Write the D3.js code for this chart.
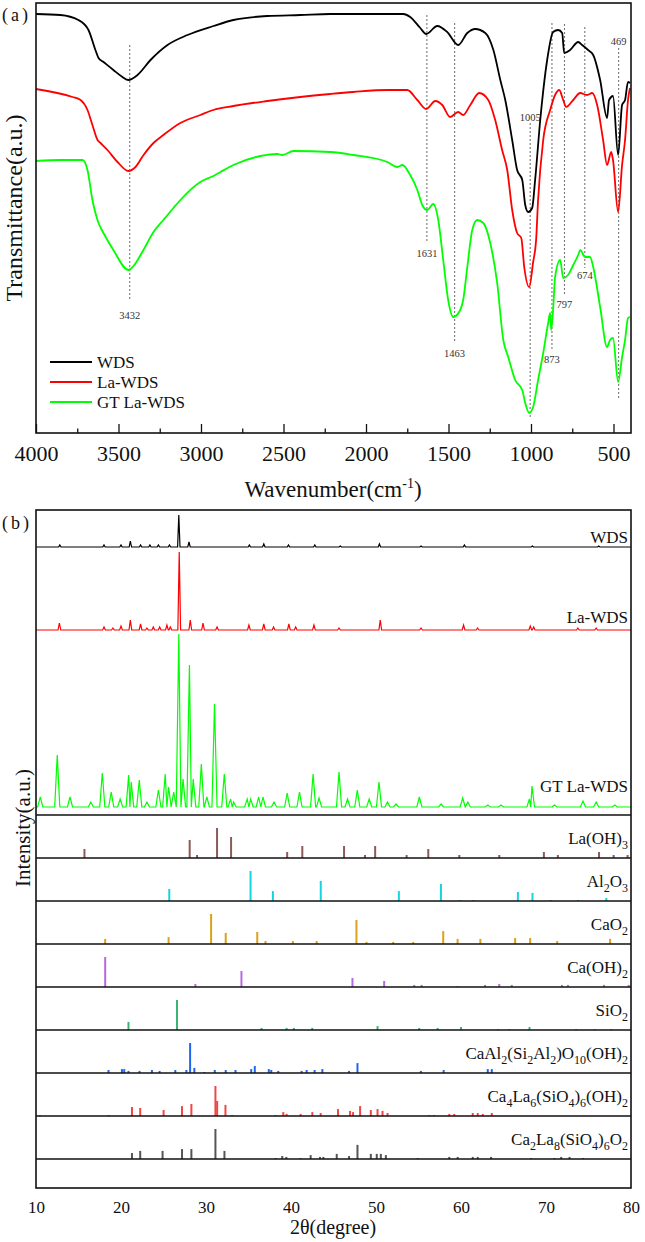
<!DOCTYPE html>
<html>
<head>
<meta charset="utf-8">
<script src="https://cdn.jsdelivr.net/npm/d3@7"></script>
<style>
  body { margin: 0; background: #fff; }
  svg text { font-family: "Liberation Serif", "Times New Roman", serif !important; fill: #111; }
</style>
</head>
<body>
<svg id="chart" width="645" height="1242"></svg>
<script>
// ---- (a) FTIR spectra: [wavenumber cm-1, transmittance a.u.]
const ftirWDS = [[4000,419],[3852,418],[3743,413],[3682,403],[3640,383],[3621,375],[3591,371],[3531,363],[3476,356],[3440,353],[3385,358],[3306,373],[3203,388],[3082,398],[2925,407],[2804,413],[2598,417],[2398,418],[2216,419],[1774,419],[1732,416],[1671,405],[1635,399],[1568,407],[1508,401],[1441,388],[1386,400],[1338,404],[1277,400],[1228,383],[1186,353],[1156,333],[1114,293],[1084,263],[1053,253],[1035,228],[1017,221],[993,225],[975,253],[944,313],[902,373],[866,401],[835,403],[811,400],[799,380],[763,383],[714,391],[690,388],[654,383],[623,378],[581,353],[539,315],[527,333],[503,337],[472,278],[448,328],[430,333],[412,351],[400,350]];
const ftirLaWDS = [[4000,344],[3779,336],[3730,333],[3688,323],[3658,308],[3627,293],[3609,290],[3567,283],[3506,271],[3440,262],[3397,266],[3348,278],[3288,290],[3228,298],[3125,310],[3004,318],[2925,323],[2804,327],[2598,332],[2398,336],[2216,339],[2077,341],[1871,343],[1750,343],[1689,333],[1635,324],[1580,332],[1538,328],[1490,316],[1441,321],[1411,318],[1368,328],[1314,340],[1259,333],[1217,313],[1175,283],[1144,263],[1114,223],[1084,200],[1059,195],[1041,166],[1011,146],[987,171],[969,193],[957,233],[926,293],[884,323],[854,338],[829,343],[805,333],[787,326],[744,333],[702,340],[660,338],[629,340],[599,328],[563,293],[539,268],[514,281],[503,273],[472,221],[448,268],[430,293],[412,333],[400,345]];
const ftirGTLaWDS = [[4000,272],[3852,273],[3718,273],[3688,263],[3658,233],[3621,210],[3591,200],[3531,183],[3440,163],[3409,167],[3349,183],[3288,201],[3228,213],[3167,225],[3125,233],[3004,251],[2925,257],[2882,261],[2804,268],[2640,277],[2537,279],[2507,278],[2440,282],[2216,281],[2077,278],[1871,271],[1810,266],[1780,268],[1732,258],[1689,243],[1659,228],[1629,223],[1592,229],[1562,213],[1532,173],[1502,133],[1471,116],[1429,123],[1411,133],[1386,166],[1356,203],[1326,213],[1289,210],[1247,190],[1205,150],[1168,93],[1138,76],[1096,53],[1053,43],[1035,30],[1011,20],[987,26],[957,53],[926,80],[896,110],[884,120],[878,103],[866,123],[854,156],[823,173],[805,155],[775,158],[744,168],[714,178],[702,183],[672,176],[642,176],[623,166],[581,126],[539,86],[521,93],[503,95],[472,51],[448,76],[430,93],[412,115],[400,116]];
const ftirNames = ["WDS", "La-WDS", "GT La-WDS"];
const ftirColors = ["#000000", "#ff0000", "#00ff00"];
const wnMajorTicks = [4000, 3500, 3000, 2500, 2000, 1500, 1000, 500];
const wnMinorTicks = [3750, 3250, 2750, 2250, 1750, 1250, 750];

// marked bands: wavenumber, dashed line top / bottom and label level (a.u.)
const peakWn = [3432, 1631, 1463, 1005, 873, 797, 674, 469];
const peakTop = [388, 418, 410, 310, 410, 409, 406, 385];
const peakBottom = [133, 190, 90, 16, 83, 138, 165, 33];
const peakLabel = [114, 176, 76, 312, 70, 125, 154, 388];

// ---- (b) XRD patterns: [2theta, intensity]
const xrdWDS = [[12.8,2],[18.0,2],[20.0,2],[21.1,6],[22.3,2],[23.4,2],[24.4,2],[25.7,2],[26.8,32],[28.0,5],[35.1,2],[36.8,3],[39.7,2],[42.8,2],[45.8,1],[50.4,3],[55.3,1],[60.4,2],[68.4,1],[76.2,1]];
const xrdLaWDS = [[12.75,7],[18.0,3],[19.05,2],[20.0,4],[21.1,10],[22.3,6],[23.05,2],[23.8,3],[24.55,3],[25.4,5],[25.8,3],[26.85,78],[28.15,10],[29.65,7],[31.3,3],[35.05,5],[36.8,6],[37.95,3],[39.75,6],[40.55,3],[42.7,5],[45.65,2],[50.5,10],[55.3,2],[60.3,5],[61.95,2],[68.15,4],[68.55,3],[73.75,2],[75.9,2]];
const xrdGTLaWDS = [[10.5,10],[12.5,52],[14.0,10],[16.45,5],[17.8,34],[18.85,15],[19.9,8],[20.9,32],[21.2,25],[22.15,27],[23.05,5],[24.4,17],[25.2,33],[25.6,20],[26.2,15],[26.8,173],[27.3,28],[28.05,142],[28.5,28],[29.45,43],[30.1,10],[31.0,103],[32.15,33],[32.9,8],[33.25,5],[34.85,8],[35.25,8],[36.2,10],[36.7,10],[38.0,5],[39.55,14],[41.0,15],[42.6,33],[43.3,9],[45.65,35],[46.65,8],[47.8,17],[49.2,8],[50.35,25],[51.35,5],[52.35,3],[55.1,10],[57.65,3],[60.2,9],[60.8,5],[63.15,2],[64.7,2],[68.05,8],[68.35,21],[71.0,2],[74.35,6],[75.9,5],[78.1,2]];
const xrdNames = ["WDS", "La-WDS", "GT La-WDS"];
const xrdColors = ["#000000", "#ff0000", "#00ff00"];
const twoThetaTicks = [10, 20, 30, 40, 50, 60, 70, 80];

// reference cards: [2theta, relative intensity]
const refNames = ["La(OH)3", "Al2O3", "CaO2", "Ca(OH)2", "SiO2", "CaAl2(Si2Al2)O10(OH)2", "Ca4La6(SiO4)6(OH)2", "Ca2La8(SiO4)6O2"];
const refColors = ["#8c5a5a", "#14d4e4", "#d9a21a", "#b56ae3", "#3cb371", "#1e66f0", "#f04646", "#555555"];
const refLaOH3 = [[15.7,30],[28.08,60],[28.95,10],[31.3,100],[32.95,70],[39.55,20],[41.33,40],[46.24,40],[48.7,10],[49.9,40],[53.6,10],[56.15,30],[59.8,10],[64.5,10],[69.75,20],[71.4,10],[76.24,20],[77.96,10],[79.6,10]];
const refAl2O3 = [[25.68,40],[35.24,100],[37.87,33],[43.5,67],[52.69,33],[57.64,57],[59.92,3],[61.45,3],[66.69,30],[68.41,27],[70.6,3],[73.76,3],[77.1,10]];
const refCaO2 = [[18.14,17],[25.6,23],[30.6,100],[32.32,37],[36.03,40],[37.0,10],[40.22,10],[43.02,10],[47.7,80],[48.88,7],[52.02,7],[54.38,7],[57.91,43],[59.6,17],[62.28,17],[66.37,20],[68.14,20],[71.32,10],[77.54,17]];
const refCaOH2 = [[18.14,100],[28.75,10],[34.17,53],[47.23,30],[50.96,20],[54.5,7],[55.37,7],[59.6,3],[62.83,7],[64.5,10],[65.97,7],[71.87,7],[72.58,7],[76.83,7],[79.73,7]];
const refSiO2 = [[20.88,27],[26.59,100],[36.53,7],[39.48,7],[40.34,7],[42.5,7],[50.18,13],[55.08,7],[57.25,7],[60.0,10],[64.33,3],[65.7,3],[68.06,10],[73.56,3],[75.72,3],[77.69,3]];
const refMargarite = [[18.53,10],[20.11,13],[20.38,13],[20.88,7],[22.18,7],[23.64,10],[24.54,7],[26.39,10],[27.69,10],[28.13,100],[28.63,17],[29.81,3],[31.03,10],[32.32,10],[33.47,10],[35.32,13],[35.74,23],[37.39,13],[37.68,10],[38.5,7],[41.25,7],[41.84,10],[42.78,10],[43.69,13],[46.83,7],[47.82,33],[55.28,7],[57.96,10],[63.15,13],[63.62,13]];
const refCa4La6 = [[10.47,3],[18.53,3],[21.29,30],[22.26,27],[25.01,20],[27.18,33],[28.28,40],[31.11,100],[31.31,50],[32.29,37],[33.08,3],[38.18,3],[39.09,13],[39.48,7],[41.13,7],[42.51,13],[43.49,10],[45.53,23],[46.95,17],[47.3,13],[48.13,33],[49.39,20],[50.18,23],[50.77,17],[51.36,10],[56.26,3],[56.85,3],[58.62,7],[59.21,7],[61.38,10],[61.97,10],[62.56,7],[63.62,10]];
const refCa2La8 = [[21.29,20],[22.26,27],[24.89,27],[27.18,33],[28.28,33],[31.11,100],[32.17,27],[38.18,3],[38.97,10],[39.45,7],[41.13,3],[42.31,13],[43.41,7],[43.81,7],[45.38,17],[46.83,10],[47.82,47],[49.39,17],[50.09,17],[50.57,17],[51.16,13],[54.9,3],[58.62,7],[59.61,7],[61.38,7],[61.97,7],[63.54,7],[68.25,3],[71.0,3],[71.79,7],[72.77,7],[74.35,3]];
const refPatterns = [refLaOH3, refAl2O3, refCaO2, refCaOH2, refSiO2, refMargarite, refCa4La6, refCa2La8];

const svg = d3.select("#chart");

// digits in chemical formulas become subscripts
function formula(textSel, str, size) {
  const sub = Math.round(size * 0.68), shift = Math.round(size * 0.28);
  let down = false;
  str.match(/\d+|\D+/g).forEach(part => {
    const t = textSel.append("tspan").text(part);
    if (/\d/.test(part)) {
      t.attr("font-size", sub).attr("dy", down ? 0 : shift);
      down = true;
    } else {
      t.attr("dy", down ? -shift : 0);
      down = false;
    }
  });
}

// ================= panel (a) =================
const xA = d3.scaleLinear().domain([4000, 400]).range([36, 630]);
const yA = d3.scaleLinear().domain([0, 430]).range([433, 3]);
const lineA = d3.line().x(d => xA(d[0])).y(d => yA(d[1])).curve(d3.curveMonotoneX);

// dashed band markers
peakWn.forEach((wn, i) => {
  svg.append("line")
    .attr("x1", xA(wn)).attr("x2", xA(wn))
    .attr("y1", yA(peakTop[i])).attr("y2", yA(peakBottom[i]))
    .attr("stroke", "#777").attr("stroke-width", 1.1)
    .attr("stroke-dasharray", "2,2");
  svg.append("text")
    .attr("x", xA(wn)).attr("y", yA(peakLabel[i]))
    .attr("text-anchor", "middle")
    .attr("font-size", 10.5)
    .style("fill", "#333")
    .text(wn);
});

[ftirWDS, ftirLaWDS, ftirGTLaWDS].forEach((s, i) => {
  svg.append("path")
    .datum(s)
    .attr("fill", "none")
    .attr("stroke", ftirColors[i])
    .attr("stroke-width", 1.8)
    .attr("stroke-linejoin", "round")
    .attr("d", lineA);
});

svg.append("rect")
  .attr("x", 36).attr("y", 3).attr("width", 595).attr("height", 430)
  .attr("fill", "none").attr("stroke", "#111").attr("stroke-width", 1.6);

const axA = svg.append("g")
  .attr("transform", "translate(0,433)")
  .call(d3.axisBottom(xA).tickValues(wnMajorTicks).tickSize(-9).tickPadding(12).tickFormat(d3.format("d")));
axA.attr("font-family", null);
axA.select(".domain").remove();
axA.selectAll("line").attr("stroke", "#111").attr("stroke-width", 1.3);
axA.selectAll("text").attr("font-size", 22).style("fill", "#111");

const axAminor = svg.append("g")
  .attr("transform", "translate(0,433)")
  .call(d3.axisBottom(xA).tickValues(wnMinorTicks).tickSize(-4.5).tickFormat(""));
axAminor.select(".domain").remove();
axAminor.selectAll("line").attr("stroke", "#111").attr("stroke-width", 1.3);

// legend
ftirNames.forEach((name, i) => {
  const y = 362 + i * 20;
  svg.append("line").attr("x1", 50).attr("x2", 92).attr("y1", y).attr("y2", y)
    .attr("stroke", ftirColors[i]).attr("stroke-width", 2);
  svg.append("text").attr("x", 97).attr("y", y + 6).attr("font-size", 17).text(name);
});

svg.append("text").attr("x", 2).attr("y", 21).attr("font-size", 18)
  .attr("letter-spacing", 3).text("(a)");

svg.append("text")
  .attr("transform", "translate(22,208) rotate(-90)")
  .attr("text-anchor", "middle").attr("font-size", 24)
  .text("Transmittance(a.u.)");

const wnTitle = svg.append("text")
  .attr("x", 333).attr("y", 497)
  .attr("text-anchor", "middle").attr("font-size", 23);
wnTitle.append("tspan").text("Wavenumber(cm");
wnTitle.append("tspan").attr("font-size", 14).attr("dy", -9).text("-1");
wnTitle.append("tspan").attr("dy", 9).text(")");

// ================= panel (b) =================
const xB = d3.scaleLinear().domain([10, 80]).range([36, 631]);
const yB = d3.scaleLinear().domain([0, 305]).range([815, 510]);
const xrdOffset = [268, 185, 8];
const xrdHalfWidth = [0.14, 0.16, 0.3];
const xrdLabelLift = [4, 7, 15];

[xrdWDS, xrdLaWDS, xrdGTLaWDS].forEach((peaks, i) => {
  const w = xrdHalfWidth[i], off = xrdOffset[i];
  const pts = [[10, 0]];
  peaks.forEach((p, k) => {
    const prev = peaks[k - 1], next = peaks[k + 1];
    if (!prev || p[0] - w > prev[0] + w) pts.push([p[0] - w, 0]);
    else pts.push([(prev[0] + p[0]) / 2, 0]);
    pts.push([p[0], p[1]]);
    if (!next || p[0] + w < next[0] - w) pts.push([p[0] + w, 0]);
  });
  pts.push([80, 0]);
  svg.append("path")
    .datum(pts)
    .attr("fill", "none")
    .attr("stroke", xrdColors[i])
    .attr("stroke-width", 1.2)
    .attr("d", d3.line().x(d => xB(d[0])).y(d => yB(d[1] + off)));
  svg.append("text")
    .attr("x", 628).attr("y", yB(off) - xrdLabelLift[i])
    .attr("text-anchor", "end").attr("font-size", 17)
    .text(xrdNames[i]);
});

// reference cards
const bandH = 43, bandTop = 815;
const stickY = d3.scaleLinear().domain([0, 100]).range([0, 30]);
refPatterns.forEach((sticks, i) => {
  const base = bandTop + bandH * (i + 1);
  svg.append("g").selectAll("line")
    .data(sticks).enter().append("line")
    .attr("x1", d => xB(d[0])).attr("x2", d => xB(d[0]))
    .attr("y1", base).attr("y2", d => base - stickY(d[1]))
    .attr("stroke", refColors[i]).attr("stroke-width", 2);
  const t = svg.append("text")
    .attr("x", 628).attr("y", base - 14)
    .attr("text-anchor", "end").attr("font-size", 17);
  formula(t, refNames[i], 17);
});

d3.range(0, refPatterns.length + 1).forEach(k => {
  svg.append("line")
    .attr("x1", 36).attr("x2", 631)
    .attr("y1", bandTop + bandH * k).attr("y2", bandTop + bandH * k)
    .attr("stroke", "#111").attr("stroke-width", 1.5);
});

svg.append("rect")
  .attr("x", 36).attr("y", 510).attr("width", 595).attr("height", 678)
  .attr("fill", "none").attr("stroke", "#111").attr("stroke-width", 1.6);

const axB = svg.append("g")
  .attr("transform", "translate(0,1188)")
  .call(d3.axisBottom(xB).tickValues(twoThetaTicks).tickSize(0).tickPadding(13));
axB.attr("font-family", null);
axB.select(".domain").remove();
axB.selectAll("text").attr("font-size", 17).style("fill", "#111");

svg.append("text").attr("x", 2).attr("y", 529).attr("font-size", 18)
  .attr("letter-spacing", 3).text("(b)");

svg.append("text")
  .attr("transform", "translate(30,828) rotate(-90)")
  .attr("text-anchor", "middle").attr("font-size", 21)
  .text("Intensity(a.u.)");

svg.append("text")
  .attr("x", 333).attr("y", 1234)
  .attr("text-anchor", "middle").attr("font-size", 20)
  .text("2θ(degree)");
</script>
</body>
</html>
